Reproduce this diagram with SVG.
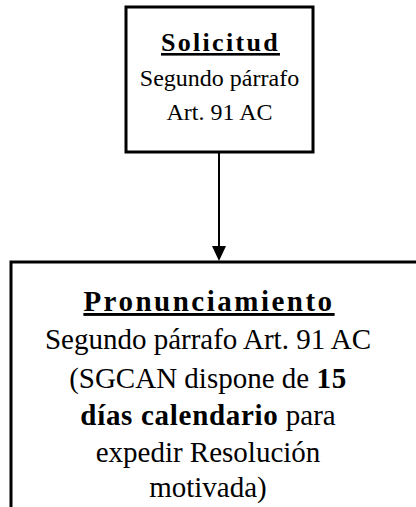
<svg xmlns="http://www.w3.org/2000/svg" width="416" height="507" viewBox="0 0 416 507">
<defs>
<style>
.box{fill:#fff;stroke:#000;stroke-width:3}
text{font-family:'Liberation Serif','Times New Roman','DejaVu Serif',serif;fill:#000;text-anchor:middle}
.s{font-size:24px}
.b{font-size:29px}
.h{font-weight:bold;text-decoration:underline}
.w{font-weight:bold;letter-spacing:0.7px}
.conn{stroke:#000;stroke-width:2;fill:none}
</style>
</defs>
<rect width="416" height="507" fill="#fff"/>
<g id="connectors">
<line class="conn" x1="219" y1="153" x2="219" y2="248"/>
<path d="M212,246 L226,246 L219,261 Z" fill="#000"/>
</g>
<g id="solicitud">
<rect class="box" x="126" y="7" width="187" height="145"/>
<text class="h" x="220.5" y="51" font-size="26" letter-spacing="2.3">Solicitud</text>
<text class="s" x="219.5" y="86">Segundo párrafo</text>
<text class="s" x="219.5" y="120">Art. 91 AC</text>
</g>
<g id="pronunciamiento">
<rect class="box" x="11" y="262" width="420" height="260"/>
<text class="b h" x="209" y="311" letter-spacing="2.5">Pronunciamiento</text>
<text class="b" x="208" y="349">Segundo párrafo Art. 91 AC</text>
<text class="b" x="208" y="388">(SGCAN dispone de <tspan class="w">15</tspan></text>
<text class="b" x="208" y="425"><tspan class="w">días calendario</tspan> para</text>
<text class="b" x="208" y="462">expedir Resolución</text>
<text class="b" x="208" y="497">motivada)</text>
</g>
</svg>
